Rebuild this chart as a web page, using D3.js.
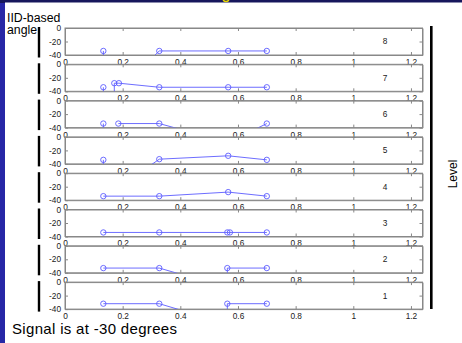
<!DOCTYPE html>
<html>
<head>
<meta charset="utf-8">
<script src="https://cdn.jsdelivr.net/npm/d3@7"></script>
<style>
  html, body { margin: 0; padding: 0; background: #1a1a60; }
  svg { display: block; font-family: "Liberation Sans", Arial, sans-serif; }
</style>
</head>
<body>
<script>
// levels from top panel to bottom panel
var levels = [8, 7, 6, 5, 4, 3, 2, 1];
var xTicks = [0, 0.2, 0.4, 0.6, 0.8, 1, 1.2];
var yTicks = [0, -20, -40];

// peak positions per level (x) and IID-based angles (y); null = break in line
var peakX = [
  [0.133, 0.134, 0.20, 0.327, 0.566, 0.70],
  [0.133, 0.134, 0.171, 0.171, 0.187, 0.327, 0.566, 0.70],
  [0.133, 0.134, 0.16, 0.185, 0.327, 0.566, 0.70],
  [0.133, 0.134, 0.187, 0.327, 0.566, 0.70],
  [0.133, 0.327, 0.566, 0.70],
  [0.133, 0.327, 0.563, 0.572, 0.70],
  [0.133, 0.327, 0.563, 0.563, 0.70],
  [0.133, 0.327, 0.563, 0.563, 0.70]
];
var peakY = [
  [-34, -120, -87, -34, -34, -34],
  [-34, -120, -120, -28, -28, -34, -34, -34],
  [-34, -120, null, -34, -34, -62, -34],
  [-34, -120, -75, -33, -28, -34],
  [-34, -34, -28, -34],
  [-34, -34, -34, -34, -34],
  [-33, -33, -62, -33, -33],
  [-32, -32, -62, -32, -32]
];

var W = 462, H = 343;
var svg = d3.select("body").append("svg").attr("width", W).attr("height", H);

// slide background: blue left strip, navy top strip, white content
svg.append("rect").attr("x", 0).attr("y", 0).attr("width", W).attr("height", H).attr("fill", "#2727a6");
svg.append("rect").attr("x", 0).attr("y", 0).attr("width", W).attr("height", 3).attr("fill", "#17175c");
svg.append("rect").attr("x", 5).attr("y", 2.5).attr("width", W - 5).attr("height", H).attr("fill", "#ffffff");
svg.append("circle").attr("cx", 226).attr("cy", -1.5).attr("r", 3).attr("fill", "none")
  .attr("stroke", "#e8d800").attr("stroke-width", 1.5);

var left = 65, right = 422.5;
var x = d3.scaleLinear().domain([0, 1.24]).range([left, right]);
var top0 = 28, panelH = 27, step = 36.3;
var blue = "#5c5cff";

levels.forEach(function(lv, i){
  var top = top0 + i * step, bottom = top + panelH;
  var y = d3.scaleLinear().domain([-40, 0]).range([bottom, top]);
  var g = svg.append("g");

  // clip
  var cid = "clip" + i;
  svg.append("clipPath").attr("id", cid).append("rect")
    .attr("x", left).attr("y", top).attr("width", right - left).attr("height", panelH);

  // axes with inner ticks, matlab style
  var xb = g.append("g").attr("transform", "translate(0," + bottom + ")")
    .call(d3.axisBottom(x).tickValues(xTicks).tickSizeInner(-3).tickSizeOuter(0).tickPadding(5)
      .tickFormat(d3.format("")));
  var xt = g.append("g").attr("transform", "translate(0," + top + ")")
    .call(d3.axisTop(x).tickValues(xTicks).tickSizeInner(-3).tickSizeOuter(0).tickFormat(""));
  var yl = g.append("g").attr("transform", "translate(" + left + ",0)")
    .call(d3.axisLeft(y).tickValues(yTicks).tickSizeInner(-3).tickSizeOuter(0).tickPadding(4)
      .tickFormat(function(d){ return String(d); }));
  var yr = g.append("g").attr("transform", "translate(" + right + ",0)")
    .call(d3.axisRight(y).tickValues(yTicks).tickSizeInner(-3).tickSizeOuter(0).tickFormat(""));
  [xb, xt, yl, yr].forEach(function(a){
    a.select(".domain").attr("stroke", "#888");
    a.selectAll(".tick line").attr("stroke", "#888");
    a.selectAll("text").attr("font-size", 8.3).attr("fill", "#1a1a1a")
      .attr("font-family", "'Liberation Sans', Arial, sans-serif");
  });
  xb.selectAll("text").attr("dy", "0.6em");

  // box
  g.append("rect").attr("x", left).attr("y", top).attr("width", right - left).attr("height", panelH)
    .attr("fill", "none").attr("stroke", "#888").attr("stroke-width", 1);

  // data
  var pts = peakX[i].map(function(d, k){ return {x: d, y: peakY[i][k]}; });
  var line = d3.line().defined(function(d){ return d.y !== null; })
    .x(function(d){ return x(d.x); }).y(function(d){ return y(d.y); });
  g.append("path").datum(pts).attr("d", line).attr("clip-path", "url(#" + cid + ")")
    .attr("fill", "none").attr("stroke", blue).attr("stroke-width", 0.9);
  g.selectAll("circle.pk").data(pts.filter(function(d){ return d.y !== null && d.y >= -40 && d.y <= 0; }))
    .enter().append("circle").attr("class", "pk")
    .attr("cx", function(d){ return x(d.x); }).attr("cy", function(d){ return y(d.y); })
    .attr("r", 2.7).attr("fill", "none").attr("stroke", blue).attr("stroke-width", 0.9);

  // level number
  g.append("text").attr("x", x(1.11)).attr("y", y(-20)).attr("dy", "0.35em")
    .attr("text-anchor", "middle").attr("font-size", 8.3).attr("fill", "#1a1a1a").text(lv);

  // black bar on left
  svg.append("rect").attr("x", 37.8).attr("y", top - 1).attr("width", 2.4).attr("height", panelH + 3.5)
    .attr("fill", "#000");
});

// right bar and Level label
svg.append("rect").attr("x", 430).attr("y", 26).attr("width", 2.6).attr("height", 283).attr("fill", "#000");
svg.append("text").attr("transform", "translate(457,174) rotate(-90)")
  .attr("text-anchor", "middle").attr("font-size", 12).attr("fill", "#000").text("Level");

svg.append("text").attr("x", 7).attr("y", 21.5).attr("font-size", 12.3).attr("fill", "#000").text("IID-based");
svg.append("text").attr("x", 7).attr("y", 34).attr("font-size", 12.3).attr("fill", "#000").text("angle");

svg.append("text").attr("x", 12).attr("y", 334).attr("font-size", 15).attr("fill", "#000")
  .attr("textLength", 165).attr("lengthAdjust", "spacing").text("Signal is at -30 degrees");
</script>
</body>
</html>
